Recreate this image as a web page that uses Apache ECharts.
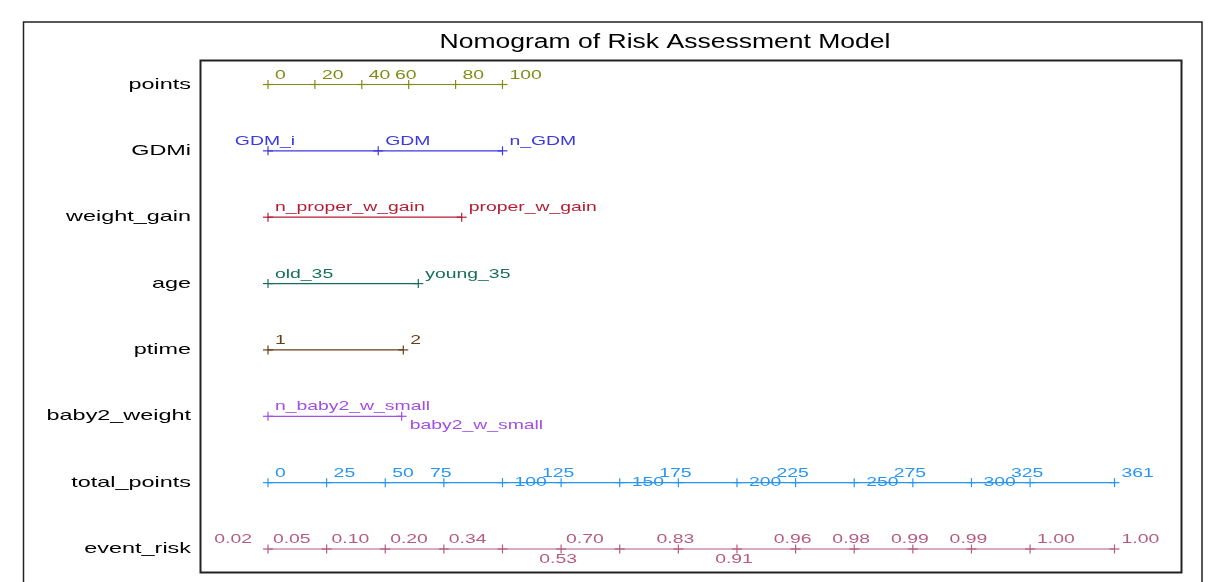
<!DOCTYPE html>
<html>
<head>
<meta charset="utf-8">
<script src="https://cdn.jsdelivr.net/npm/echarts@6/dist/echarts.min.js"></script>
<style>
  html, body { margin: 0; padding: 0; background: #fff; }
  #main { width: 1218px; height: 582px; }
</style>
</head>
<body>
<div id="main"></div>
<script>
// row names, top to bottom
var rowNames = ['points', 'GDMi', 'weight_gain', 'age', 'ptime', 'baby2_weight', 'total_points', 'event_risk'];

// tick positions (in points) and their labels for each row
var pointsTicks = [0, 20, 40, 60, 80, 100];
var pointsLabels = ['0', '20', '40', '60', '80', '100'];

var gdmiTicks = [0, 47, 100];
var gdmiLabels = ['GDM_i', 'GDM', 'n_GDM'];

var weightGainTicks = [0, 82.6];
var weightGainLabels = ['n_proper_w_gain', 'proper_w_gain'];

var ageTicks = [0, 64.1];
var ageLabels = ['old_35', 'young_35'];

var ptimeTicks = [0, 57.7];
var ptimeLabels = ['1', '2'];

var baby2Ticks = [0, 57];
var baby2Labels = ['n_baby2_w_small', 'baby2_w_small'];

var totalTicks = [0, 25, 50, 75, 100, 125, 150, 175, 200, 225, 250, 275, 300, 325, 361];
var totalLabels = ['0', '25', '50', '75', '100', '125', '150', '175', '200', '225', '250', '275', '300', '325', '361'];

var riskTicks = [0, 25, 50, 75, 100, 125, 150, 175, 200, 225, 250, 275, 300, 325, 361];
var riskLabels = ['0.02', '0.05', '0.10', '0.20', '0.34', '0.53', '0.70', '0.83', '0.91', '0.96', '0.98', '0.99', '0.99', '1.00', '1.00'];

// where each label sits relative to its tick
// r = above right, l = above left, c = above centred, in = inline right, b = below centred, br = below right
var PLACE = {
  r:  { dx: 7,   dy: -9.5, align: 'left' },
  l:  { dx: -16, dy: -9.5, align: 'right' },
  c:  { dx: -3,  dy: -9.5, align: 'center' },
  in: { dx: 12,  dy: 0,    align: 'left' },
  b:  { dx: -3,  dy: 10,   align: 'center' },
  br: { dx: 8,   dy: 9,    align: 'left' }
};

var STRETCH = 1.49;
var NAME_STRETCH = 1.56;
var FONT = '"Liberation Sans", Arial, sans-serif';

function makeRow(row, ticks, labels, color, place) {
  return {
    type: 'custom',
    coordinateSystem: 'cartesian2d',
    silent: true,
    clip: false,
    data: ticks.map(function (v) { return [v, row]; }),
    renderItem: function (params, api) {
      var i = params.dataIndex;
      var p = api.coord([api.value(0), row]);
      var kids = [];
      if (i > 0) {
        var q = api.coord([ticks[i - 1], row]);
        kids.push({ type: 'line', shape: { x1: q[0], y1: q[1], x2: p[0], y2: p[1] },
          style: { stroke: color, lineWidth: 1.2 } });
      }
      // the "+" tick
      kids.push({ type: 'line', shape: { x1: p[0] - 5, y1: p[1], x2: p[0] + 5, y2: p[1] },
        style: { stroke: color, lineWidth: 1.2 } });
      kids.push({ type: 'line', shape: { x1: p[0], y1: p[1] - 4.5, x2: p[0], y2: p[1] + 4.5 },
        style: { stroke: color, lineWidth: 1.2 } });
      var pl = PLACE[place[i]];
      kids.push({
        type: 'text', x: p[0] + pl.dx, y: p[1] + pl.dy, scaleX: STRETCH,
        style: { text: labels[i], fill: color, font: '13px ' + FONT, align: pl.align, verticalAlign: 'middle' }
      });
      if (i === 0) {
        // row name on the left
        kids.push({
          type: 'text', x: p[0] - 77, y: p[1], scaleX: NAME_STRETCH,
          style: { text: rowNames[row], fill: '#000', font: '15px ' + FONT, align: 'right', verticalAlign: 'middle' }
        });
      }
      return { type: 'group', children: kids };
    }
  };
}

var dom = document.getElementById('main');
var myChart = echarts.init(dom);

option = {
  animation: false,
  backgroundColor: '#fff',
  grid: { left: 268, right: 103.5, top: 84.5, bottom: 33 },
  xAxis: { type: 'value', min: 0, max: 361, show: false },
  yAxis: { type: 'category', data: rowNames, inverse: true, boundaryGap: false, show: false },
  graphic: [
    // outer frame
    { type: 'rect', shape: { x: 23.5, y: 22, width: 1178.5, height: 600 },
      style: { fill: 'none', stroke: '#222', lineWidth: 1.5 }, silent: true },
    // inner frame
    { type: 'rect', shape: { x: 200.5, y: 60.5, width: 981, height: 512 },
      style: { fill: 'none', stroke: '#222', lineWidth: 2 }, silent: true },
    // title
    { type: 'text', x: 665, y: 43, scaleX: 1.36, silent: true,
      style: { text: 'Nomogram of Risk Assessment Model', fill: '#000', font: '19.5px ' + FONT,
        align: 'center', verticalAlign: 'middle' } }
  ],
  series: [
    makeRow(0, pointsTicks, pointsLabels, 'rgb(128,140,24)', ['r', 'r', 'r', 'c', 'r', 'r']),
    makeRow(1, gdmiTicks, gdmiLabels, 'rgb(58,58,222)', ['c', 'r', 'r']),
    makeRow(2, weightGainTicks, weightGainLabels, 'rgb(180,30,52)', ['r', 'r']),
    makeRow(3, ageTicks, ageLabels, 'rgb(22,110,92)', ['r', 'r']),
    makeRow(4, ptimeTicks, ptimeLabels, 'rgb(104,62,22)', ['r', 'r']),
    makeRow(5, baby2Ticks, baby2Labels, 'rgb(162,78,230)', ['r', 'br']),
    makeRow(6, totalTicks, totalLabels, 'rgb(40,150,240)',
      ['r', 'r', 'r', 'c', 'in', 'c', 'in', 'c', 'in', 'c', 'in', 'c', 'in', 'c', 'r']),
    makeRow(7, riskTicks, riskLabels, 'rgb(180,92,130)',
      ['l', 'l', 'l', 'l', 'l', 'b', 'l', 'c', 'b', 'c', 'c', 'c', 'c', 'r', 'r'])
  ]
};

if (option && typeof option === 'object') {
  myChart.setOption(option, true);
}
</script>
</body>
</html>
